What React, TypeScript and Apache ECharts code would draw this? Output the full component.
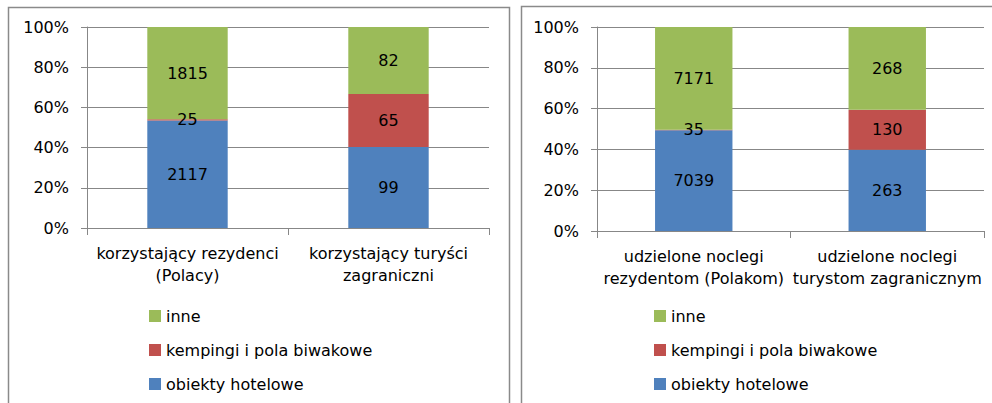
import React, { useEffect, useRef } from "react";
import * as echarts from "echarts";

const seriesNames = ["obiekty hotelowe", "kempingi i pola biwakowe", "inne"];
const legendOrder = ["inne", "kempingi i pola biwakowe", "obiekty hotelowe"];
const colors = ["#4F81BD", "#C0504D", "#9BBB59"];

const leftCategories = ["korzystający rezydenci\n(Polacy)", "korzystający turyści\nzagraniczni"];
const leftHotel = [2117, 99];
const leftCamp = [25, 65];
const leftOther = [1815, 82];

const rightCategories = ["udzielone noclegi\nrezydentom (Polakom)", "udzielone noclegi\nturystom zagranicznym"];
const rightHotel = [7039, 263];
const rightCamp = [35, 130];
const rightOther = [7171, 268];

const yTicks = [0, 20, 40, 60, 80, 100];

const FONT = "'DejaVu Sans', sans-serif";
const GRID_COLOR = "#878787";

function pct(raw: number[][]) {
  const n = raw[0].length;
  const totals = Array.from({ length: n }, (_, i) => raw.reduce((s, r) => s + r[i], 0));
  return raw.map((r) => r.map((v, i) => ({ value: (v / totals[i]) * 100, raw: v })));
}

export default function App() {
  const ref = useRef<HTMLDivElement>(null);
  useEffect(() => {
    if (!ref.current) return;
    const chart = echarts.init(ref.current, undefined, { renderer: "svg" });
    const left = pct([leftHotel, leftCamp, leftOther]);
    const right = pct([rightHotel, rightCamp, rightOther]);

    const xAxisBase = (gridIndex: number, data: string[]) => ({
      type: "category" as const,
      gridIndex,
      data,
      boundaryGap: true,
      axisLine: { lineStyle: { color: GRID_COLOR, width: 1 } },
      axisTick: { show: true, length: 7, interval: 0, lineStyle: { color: GRID_COLOR } },
      axisLabel: {
        interval: 0,
        color: "#000",
        fontFamily: FONT,
        fontSize: 16,
        lineHeight: 22,
        margin: 14,
      },
    });
    const yAxisBase = (gridIndex: number) => ({
      type: "value" as const,
      gridIndex,
      min: yTicks[0],
      max: yTicks[yTicks.length - 1],
      interval: 20,
      axisLine: { show: true, lineStyle: { color: GRID_COLOR } },
      axisTick: { show: true, length: 6, lineStyle: { color: GRID_COLOR } },
      splitLine: { show: true, lineStyle: { color: GRID_COLOR, width: 1 } },
      axisLabel: {
        color: "#000",
        fontFamily: FONT,
        fontSize: 16,
        margin: 18,
        formatter: (v: number) => `${v}%`,
      },
    });

    const mkSeries = (data: any[][], idx: number) =>
      data.map((d, i) => ({
        type: "bar" as const,
        name: seriesNames[i],
        xAxisIndex: idx,
        yAxisIndex: idx,
        stack: "s" + idx,
        barWidth: "40%",
        itemStyle: { color: colors[i] },
        data: d,
        label: {
          show: true,
          position: "inside",
          color: "#000",
          fontFamily: FONT,
          fontSize: 16,
          formatter: (p: any) => String(p.data.raw),
        },
      }));

    const legendBase = (leftPx: number) => ({
      orient: "vertical" as const,
      left: leftPx,
      top: 308,
      padding: 0,
      itemWidth: 12,
      itemHeight: 12,
      itemGap: 18,
      icon: "rect",
      data: legendOrder,
      selectedMode: false,
      textStyle: { color: "#000", fontFamily: FONT, fontSize: 16, lineHeight: 16 },
    });

    chart.setOption({
      animation: false,
      backgroundColor: "#fff",
      grid: [
        { left: 87, right: 503, top: 27, bottom: 175 },
        { left: 597, right: 8, top: 27, bottom: 172 },
      ],
      xAxis: [xAxisBase(0, leftCategories), xAxisBase(1, rightCategories)],
      yAxis: [yAxisBase(0), yAxisBase(1)],
      legend: [legendBase(149), legendBase(654)],
      series: [...mkSeries(left, 0), ...mkSeries(right, 1)],
      graphic: [
        {
          type: "rect",
          shape: { x: 8.5, y: 7.5, width: 501, height: 420 },
          style: { fill: "none", stroke: "#8a8a8a", lineWidth: 1.5 },
          silent: true,
          z: -1,
        },
        {
          type: "rect",
          shape: { x: 521.5, y: 6.5, width: 500, height: 420 },
          style: { fill: "none", stroke: "#8a8a8a", lineWidth: 1.5 },
          silent: true,
          z: -1,
        },
      ],
    });
    return () => chart.dispose();
  }, []);
  return (
    <div
      ref={ref}
      style={{ position: "absolute", left: 0, top: 0, width: 992, height: 403 }}
    />
  );
}
